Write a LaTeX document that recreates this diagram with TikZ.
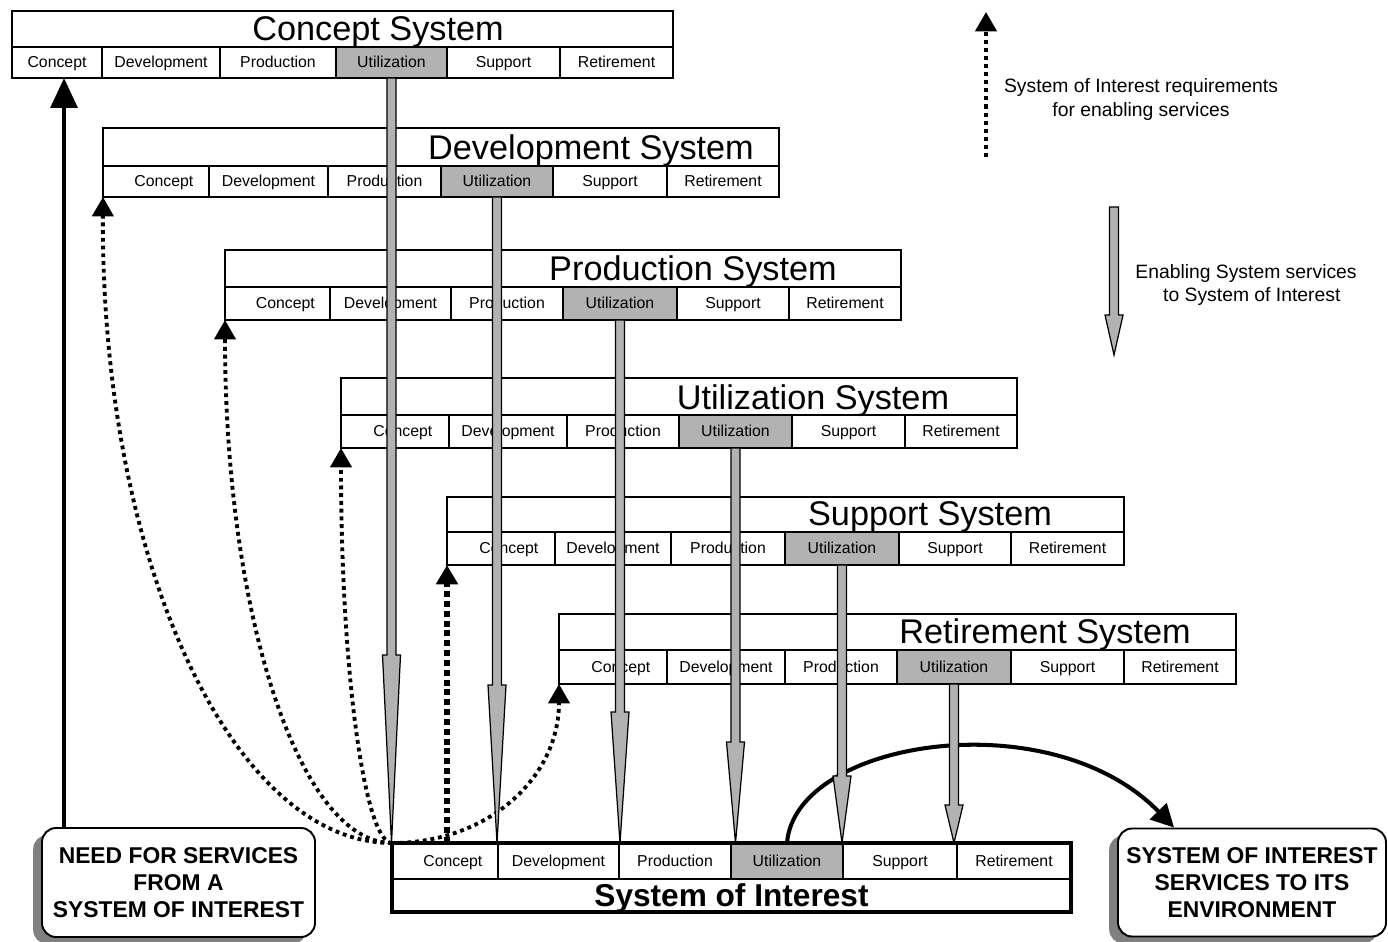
\documentclass[tikz,border=0pt]{standalone}
\usepackage{fontspec}
\setmainfont{Liberation Sans}
\usetikzlibrary{arrows.meta,calc,shadows}

\definecolor{utilgray}{RGB}{178,178,178}
\definecolor{shadowgray}{RGB}{128,128,128}

\tikzset{
  cellst/.style={draw, line width=0.7pt, inner sep=0pt, outer sep=0pt,
    text height=8.1pt, text depth=1.9pt,
    font=\fontsize{9}{10}\selectfont},
  soicell/.style={cellst, line width=1.1pt},
  titlest/.style={inner sep=0pt, text height=14.2pt, text depth=4.1pt,
    font=\fontsize{19.5}{22}\selectfont},
  soititle/.style={inner sep=0pt, text height=13.1pt, text depth=3.8pt,
    font=\fontsize{18}{20}\selectfont\bfseries},
  reqline/.style={line width=2.2pt, dash pattern=on 2.2pt off 2.2pt,
    -{Triangle[length=11pt,width=12pt]}},
  reqthick/.style={line width=3.4pt, dash pattern=on 3.4pt off 2.2pt,
    -{Triangle[length=11pt,width=12pt]}},
  needline/.style={line width=2.8pt, -{Triangle[length=17pt,width=15pt]}},
  envline/.style={line width=2.3pt, -{Triangle[length=13pt,width=13pt]}},
  svc/.style={fill=utilgray, draw=black, line width=0.7pt, line join=miter},
  infobox/.style={draw, fill=white, line width=1.1pt, rounded corners=8pt,
    align=center, inner sep=0pt, font=\fontsize{13}{15.2}\selectfont\bfseries,
    general shadow={fill=shadowgray, shadow xshift=-5pt, shadow yshift=-4pt}},
  legendtext/.style={align=center, inner sep=0pt, font=\fontsize{11}{13.2}\selectfont}
}

% one rectangular cell: name, x1, x2, y1, y2, text, style (pixel units)
\newcommand\cell[7]{%
  \node[#7, minimum width={(#3-#2)*0.02cm}, minimum height={(#5-#4)*0.02cm}]
    (#1) at ({(#2+#3)/2},{(#4+#5)/2}) {#6};}

% row heights of the block being drawn
\newcommand\setrows[3]{\def\ytop{#1}\def\ydiv{#2}\def\ybot{#3}}
\newcommand\conceptlabel{\hspace*{1em}Concept}

% title row plus the six life-cycle phases
\newcommand\phases[9]{%
  \cell{#1}{#2}{#8}{\ytop}{\ydiv}{}{#9}
  \cell{#1C}{#2}{#3}{\ydiv}{\ybot}{\conceptlabel}{#9}
  \cell{#1D}{#3}{#4}{\ydiv}{\ybot}{Development}{#9}
  \cell{#1P}{#4}{#5}{\ydiv}{\ybot}{Production}{#9}
  \cell{#1U}{#5}{#6}{\ydiv}{\ybot}{Utilization}{#9,fill=utilgray}
  \cell{#1S}{#6}{#7}{\ydiv}{\ybot}{Support}{#9}
  \cell{#1R}{#7}{#8}{\ydiv}{\ybot}{Retirement}{#9}}

% grey block arrow: start, tip, head length (pixels)
\newcommand\servicearrow[3]{%
  \filldraw[svc] ($(#1)+(-4.5,0)$) -- ($(#2)+(-4.5,-#3)$) -- ($(#2)+(-9,-#3)$)
    -- (#2) -- ($(#2)+(9,-#3)$) -- ($(#2)+(4.5,-#3)$) -- ($(#1)+(4.5,0)$) -- cycle;}

\begin{document}
\begin{tikzpicture}[x=0.02cm,y=-0.02cm]
\useasboundingbox (0,0) rectangle (1388,942);

% ---------------- enabling systems ----------------
\begingroup
\renewcommand\conceptlabel{Concept}
\setrows{11}{47}{78}
\phases{cs}{12}{102}{220}{336}{447}{560}{673}{cellst}
\endgroup
\node[titlest] (csT) at (378,32) {Concept System};

\setrows{128}{166}{197}
\phases{ds}{103}{209}{328}{441}{553}{667}{779}{cellst}
\node[titlest] (dsT) at (591,151) {Development System};

\setrows{250}{287}{320}
\phases{ps}{225}{330}{451}{563}{677}{789}{901}{cellst}
\node[titlest] (psT) at (693,272) {Production System};

\setrows{378}{415}{448}
\phases{us}{341}{449}{567}{679}{792}{905}{1017}{cellst}
\node[titlest] (usT) at (813,401) {Utilization System};

\setrows{497}{532}{565}
\phases{ss}{447}{555}{671}{785}{899}{1011}{1124}{cellst}
\node[titlest] (ssT) at (930,517) {Support System};

\setrows{614}{650}{684}
\phases{rs}{559}{667}{785}{897}{1011}{1124}{1236}{cellst}
\node[titlest] (rsT) at (1045,635) {Retirement System};

% ---------------- system of interest ----------------
\cell{soiC}{392}{498}{843}{879}{\conceptlabel}{soicell}
\cell{soiD}{498}{619}{843}{879}{Development}{soicell}
\cell{soiP}{619}{731}{843}{879}{Production}{soicell}
\cell{soiU}{731}{843}{843}{879}{Utilization}{soicell,fill=utilgray}
\cell{soiS}{843}{957}{843}{879}{Support}{soicell}
\cell{soiR}{957}{1071}{843}{879}{Retirement}{soicell}
\cell{soi}{392}{1071}{879}{912}{}{soicell}
\node[soititle, yshift=-1.6pt] (soiT) at (soi.center) {System of Interest};
\draw[line width=2.3pt] (soiC.north west) rectangle (soi.south east);

% ---------------- side boxes ----------------
\node[infobox, minimum width={273*0.02cm}, minimum height={109*0.02cm}]
  (need) at (178.5,882.5) {NEED FOR SERVICES\\FROM A\\SYSTEM OF INTEREST};
\node[infobox, minimum width={268*0.02cm}, minimum height={108*0.02cm}]
  (env) at (1252,882.5) {SYSTEM OF INTEREST\\SERVICES TO ITS\\ENVIRONMENT};

% ---------------- requirements (dotted) ----------------
\coordinate (needout) at ($(need.north west)+(23,0)$);
\draw[needline] (needout) -- (needout |- csC.south);

\draw[reqline] (soiC.north west) .. controls (232,843) and (101,561) .. (dsC.south west);
\draw[reqline] (soiC.north west) .. controls (300,843) and (225,616) .. (psC.south west);
\draw[reqline] (soiC.north west) .. controls (365,843) and (341,674) .. (usC.south west);
\draw[reqthick] (ssC.south west |- soiC.north) -- (ssC.south west);
\draw[reqline] (soiC.north west) .. controls (488,843) and (559,778) .. (rsC.south west);

% ---------------- services to the environment ----------------
\coordinate (envin) at ($(env.north west)+(57,0)$);
\draw[envline] (soiU.north) .. controls (795,740) and (1050,700) .. (envin);

% ---------------- enabling services (grey) ----------------
\coordinate (t1) at (csU.south |- soiC.north);
\coordinate (t2) at (dsU.south |- soiC.north);
\coordinate (t3) at (psU.south |- soiC.north);
\coordinate (t4) at (usU.south |- soiC.north);
\coordinate (t5) at (ssU.south |- soiC.north);
\coordinate (t6) at (rsU.south |- soiC.north);
\servicearrow{csU.south}{t1}{188}
\servicearrow{dsU.south}{t2}{158}
\servicearrow{psU.south}{t3}{131}
\servicearrow{usU.south}{t4}{101}
\servicearrow{ssU.south}{t5}{67}
\servicearrow{rsU.south}{t6}{38}

% ---------------- legend ----------------
\coordinate (lgReqA) at (986,157);
\coordinate (lgReqB) at (986,12);
\draw[line width=2.3pt, dash pattern=on 2.3pt off 2.3pt, -{Triangle[length=11pt,width=12pt]}]
  (lgReqA) -- (lgReqB);
\node[legendtext] (lgReqT) at (1141,99.5)
  {System of Interest requirements\\for enabling services};

\coordinate (lgSvcA) at (1114,207);
\coordinate (lgSvcB) at (1114,355);
\servicearrow{lgSvcA}{lgSvcB}{40}
\node[legendtext] (lgSvcT) at (1246,285)
  {Enabling System services\\\hspace*{0.6em}to System of Interest};

\end{tikzpicture}
\end{document}
